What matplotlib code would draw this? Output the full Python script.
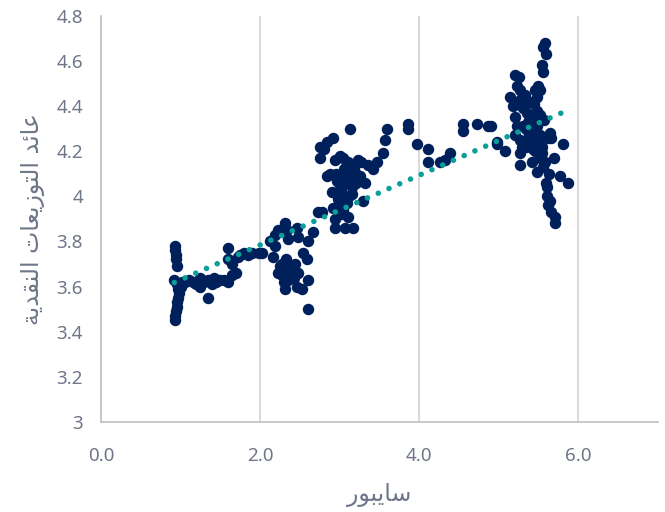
import numpy as np
import matplotlib
matplotlib.use("Agg")
import matplotlib.pyplot as plt

# ---- data ----
x_a = [0.93, 0.93, 0.94, 0.94, 0.95, 0.92, 0.95, 0.97, 0.98, 0.97, 0.96, 0.95, 0.94, 0.93, 0.93, 1.00, 1.02]
y_a = [3.78, 3.76, 3.74, 3.72, 3.69, 3.63, 3.61, 3.59, 3.57, 3.55, 3.53, 3.51, 3.49, 3.47, 3.45, 3.60, 3.62]

x_b = [1.05, 1.10, 1.15, 1.20, 1.25, 1.30, 1.35, 1.40, 1.45, 1.50, 1.55, 1.60, 1.65, 1.70, 1.35,
       1.60, 1.65, 1.72, 1.75, 1.80, 1.85, 1.90, 1.98, 1.60, 1.25, 1.42]
y_b = [3.62, 3.63, 3.62, 3.61, 3.64, 3.62, 3.63, 3.61, 3.62, 3.63, 3.63, 3.62, 3.65, 3.66, 3.55,
       3.72, 3.70, 3.73, 3.74, 3.75, 3.74, 3.75, 3.75, 3.77, 3.60, 3.64]

x_c = [2.03, 2.12, 2.19, 2.31, 2.34, 2.23, 2.47, 2.48, 2.35, 2.19, 2.16, 2.60, 2.67, 2.54, 2.59,
       2.35, 2.23, 2.34, 2.44, 2.48, 2.35, 2.31, 2.60, 2.53, 2.47, 2.60, 2.27, 2.39, 2.30, 2.40,
       2.28, 2.32, 2.42, 2.25]
y_c = [3.75, 3.80, 3.83, 3.88, 3.85, 3.85, 3.86, 3.82, 3.81, 3.78, 3.73, 3.80, 3.84, 3.75, 3.72,
       3.70, 3.66, 3.67, 3.70, 3.66, 3.63, 3.59, 3.63, 3.59, 3.60, 3.50, 3.65, 3.65, 3.62, 3.68,
       3.70, 3.72, 3.64, 3.69]

x_d = [2.73, 2.78, 2.94, 3.07, 3.17, 2.94, 3.10, 2.92, 3.04, 3.30, 2.91, 3.01, 3.16, 2.84, 2.97,
       3.08, 3.20, 3.32, 3.13, 3.21, 3.42, 3.47, 3.54, 2.94, 3.04, 3.23, 3.27, 2.75, 2.75, 2.84,
       2.92, 3.13, 3.57, 3.60, 3.86, 3.86, 3.97, 3.02, 3.00, 2.96, 3.05, 3.10, 3.15, 3.05, 3.00,
       3.08, 3.12, 3.18, 3.03, 3.06, 2.98, 3.09, 3.14, 3.25, 3.36, 2.88, 2.80, 3.00, 3.11]
y_d = [3.93, 3.93, 3.86, 3.86, 3.86, 3.90, 3.91, 3.95, 3.94, 3.98, 4.02, 3.98, 4.01, 4.09, 4.07,
       4.06, 4.06, 4.06, 4.11, 4.10, 4.12, 4.15, 4.19, 4.16, 4.17, 4.16, 4.15, 4.17, 4.22, 4.24,
       4.26, 4.30, 4.25, 4.30, 4.32, 4.30, 4.23, 4.03, 3.96, 4.10, 4.12, 4.08, 4.04, 4.00, 4.05,
       4.13, 4.00, 4.12, 3.92, 4.09, 3.99, 3.97, 4.07, 4.09, 4.14, 4.10, 4.21, 4.18, 4.15]

x_e = [4.11, 4.11, 4.26, 4.33, 4.39, 4.55, 4.55, 4.73, 4.86, 4.90, 4.98, 5.08, 4.98]
y_e = [4.21, 4.15, 4.15, 4.16, 4.19, 4.32, 4.29, 4.32, 4.31, 4.31, 4.23, 4.20, 4.24]

x_f = [5.58, 5.56, 5.60, 5.55, 5.56, 5.21, 5.25, 5.23, 5.27, 5.50, 5.52, 5.48, 5.14, 5.21, 5.28,
       5.40, 5.48, 5.21, 5.36, 5.43, 5.23, 5.30, 5.48, 5.65, 5.66, 5.27, 5.38, 5.52, 5.81, 5.43,
       5.54, 5.27, 5.69, 5.52, 5.27, 5.42, 5.56, 5.48, 5.63, 5.77, 5.87, 5.59, 5.61, 5.61, 5.64,
       5.62, 5.66, 5.71, 5.71, 5.18, 5.33, 5.45, 5.50, 5.35, 5.40, 5.46, 5.52, 5.31, 5.37, 5.44,
       5.50, 5.55, 5.58, 5.29, 5.20, 5.57, 5.62, 5.46, 5.34]
y_f = [4.68, 4.66, 4.63, 4.58, 4.55, 4.54, 4.53, 4.49, 4.47, 4.49, 4.47, 4.44, 4.44, 4.42, 4.43,
       4.42, 4.38, 4.35, 4.37, 4.35, 4.31, 4.31, 4.31, 4.28, 4.26, 4.25, 4.27, 4.27, 4.23, 4.21,
       4.22, 4.19, 4.17, 4.17, 4.14, 4.15, 4.13, 4.11, 4.10, 4.09, 4.06, 4.06, 4.04, 4.00, 3.98,
       3.96, 3.93, 3.91, 3.88, 4.40, 4.45, 4.41, 4.33, 4.30, 4.24, 4.20, 4.36, 4.39, 4.33, 4.28,
       4.24, 4.19, 4.15, 4.22, 4.27, 4.34, 4.26, 4.47, 4.22]

x_vals = np.array(x_a + x_b + x_c + x_d + x_e + x_f)
y_vals = np.array(y_a + y_b + y_c + y_d + y_e + y_f)

x_ticks = [0, 2, 4, 6]
x_ticklabels = ["0.0", "2.0", "4.0", "6.0"]
y_ticks = [3, 3.2, 3.4, 3.6, 3.8, 4, 4.2, 4.4, 4.6, 4.8]
y_ticklabels = ["3", "3.2", "3.4", "3.6", "3.8", "4", "4.2", "4.4", "4.6", "4.8"]

# Arabic labels (pre-shaped presentation forms in visual order)
x_label = "\ufead\ufeee\ufe92\ufef3\ufe8e\ufeb3"          # سايبور
y_label_logical = ["\ufecb\ufe8e\ufe8b\ufeaa",               # عائد
                   "\ufe8d\ufedf\ufe98\ufeee\ufeaf\ufef3\ufecc\ufe8e\ufe95",  # التوزيعات
                   "\ufe8d\ufedf\ufee8\ufed8\ufeaa\ufef3\ufe94"]  # النقدية
y_label = " ".join(y_label_logical)[::-1]

NAVY = "#00205B"
TEAL = "#0A9F98"
GRAY_TXT = "#6E7689"
GRID = "#D9D9D9"

fig = plt.figure(figsize=(6.65, 5.12), dpi=100)
ax = fig.add_axes([0.152, 0.176, 0.837, 0.793])

ax.scatter(x_vals, y_vals, s=68, color=NAVY, linewidths=0, zorder=3)

# linear trendline
coef = np.polyfit(x_vals, y_vals, 1)
xt = np.linspace(x_vals.min(), x_vals.max(), 50)
ax.plot(xt, np.polyval(coef, xt), color=TEAL, lw=4.0,
        linestyle=(0, (0.01, 2.1)), dash_capstyle="round", zorder=4)

ax.set_xlim(0, 7)
ax.set_ylim(3, 4.8)
ax.set_xticks(x_ticks)
ax.set_xticklabels(x_ticklabels)
ax.set_yticks(y_ticks)
ax.set_yticklabels(y_ticklabels)

ax.grid(axis="x", color=GRID, lw=1.4, zorder=0)
ax.grid(axis="y", visible=False)
for s in ["top", "right"]:
    ax.spines[s].set_visible(False)
for s in ["left", "bottom"]:
    ax.spines[s].set_color("#BFBFBF")
    ax.spines[s].set_linewidth(1.2)
ax.tick_params(axis="both", length=0, labelsize=13.5, labelcolor=GRAY_TXT)
ax.tick_params(axis="x", pad=18)
ax.tick_params(axis="y", pad=13)
for lbl in ax.get_xticklabels() + ax.get_yticklabels():
    lbl.set_family(["Noto Sans", "DejaVu Sans"])

ax.set_xlabel(x_label, fontsize=17, color=GRAY_TXT, labelpad=13,
              family=["DejaVu Sans"])
ax.set_ylabel(y_label, fontsize=17, color=GRAY_TXT, labelpad=8,
              family=["DejaVu Sans"])

fig.savefig("out.png", dpi=100)
